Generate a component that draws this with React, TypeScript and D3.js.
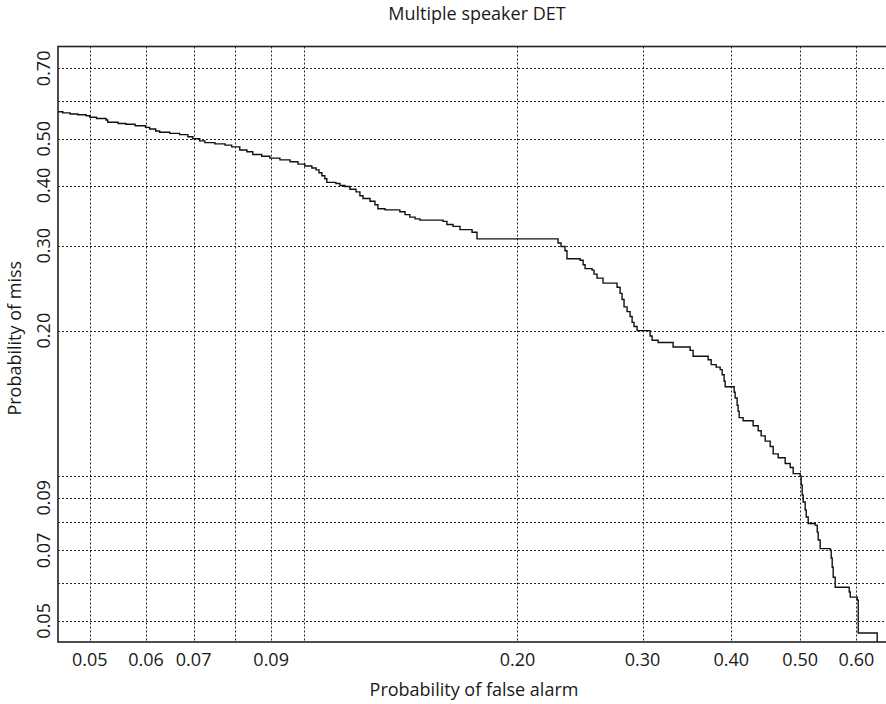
import React from 'react';
import * as d3 from 'd3';

// DET curve points (false alarm prob, miss prob)
const pfa = [
  0.0451, 0.0458, 0.0469, 0.0481, 0.0494, 0.0500, 0.0511, 0.0527, 0.0530, 0.0548,
  0.0562, 0.0579, 0.0599, 0.0607, 0.0619, 0.0627, 0.0648, 0.0669, 0.0687, 0.0698,
  0.0714, 0.0726, 0.0750, 0.0775, 0.0792, 0.0813, 0.0832, 0.0848, 0.0873, 0.0896,
  0.0926, 0.0957, 0.0982, 0.1004, 0.1027, 0.1041, 0.1051, 0.1061, 0.1071, 0.1078,
  0.1110, 0.1125, 0.1143, 0.1162, 0.1185, 0.1200, 0.1212, 0.1240, 0.1260, 0.1272,
  0.1302, 0.1366, 0.1389, 0.1411, 0.1435, 0.1458, 0.1571, 0.1591, 0.1623, 0.1660,
  0.1726, 0.1754, 0.2281, 0.2303, 0.2333, 0.2348, 0.2450, 0.2474, 0.2490, 0.2547,
  0.2563, 0.2588, 0.2639, 0.2762, 0.2789, 0.2807, 0.2825, 0.2853, 0.2881, 0.2900,
  0.2918, 0.2947, 0.3074, 0.3094, 0.3155, 0.3312, 0.3500, 0.3534, 0.3710, 0.3747,
  0.3808, 0.3858, 0.3883, 0.3908, 0.3921, 0.4037, 0.4050, 0.4076, 0.4089, 0.4103,
  0.4156, 0.4293, 0.4364, 0.4406, 0.4464, 0.4537, 0.4581, 0.4656, 0.4763, 0.4841,
  0.4888, 0.5000, 0.5016, 0.5033, 0.5049, 0.5082, 0.5099, 0.5132, 0.5249, 0.5284,
  0.5301, 0.5335, 0.5511, 0.5529, 0.5547, 0.5565, 0.5601, 0.5862, 0.5881, 0.6016,
  0.6035, 0.6418,
];
const pmiss = [
  0.569, 0.566, 0.563, 0.561, 0.558, 0.554, 0.551, 0.547, 0.541, 0.538,
  0.536, 0.532, 0.528, 0.524, 0.519, 0.516, 0.513, 0.510, 0.505, 0.500,
  0.495, 0.491, 0.488, 0.485, 0.481, 0.474, 0.470, 0.464, 0.460, 0.456,
  0.452, 0.448, 0.443, 0.439, 0.435, 0.431, 0.425, 0.419, 0.413, 0.406,
  0.404, 0.400, 0.398, 0.393, 0.388, 0.381, 0.376, 0.371, 0.365, 0.358,
  0.356, 0.353, 0.348, 0.344, 0.341, 0.339, 0.337, 0.332, 0.329, 0.324,
  0.320, 0.310, 0.304, 0.299, 0.293, 0.282, 0.280, 0.274, 0.269, 0.267,
  0.262, 0.257, 0.251, 0.246, 0.239, 0.232, 0.224, 0.219, 0.214, 0.208,
  0.204, 0.200, 0.195, 0.191, 0.189, 0.185, 0.182, 0.177, 0.174, 0.170,
  0.168, 0.166, 0.162, 0.157, 0.153, 0.149, 0.145, 0.140, 0.136, 0.132,
  0.130, 0.127, 0.124, 0.121, 0.118, 0.115, 0.111, 0.109, 0.106, 0.104,
  0.101, 0.0998, 0.0957, 0.0912, 0.0882, 0.0849, 0.0821, 0.0796, 0.0790, 0.0764,
  0.0736, 0.0706, 0.0701, 0.0675, 0.0646, 0.0616, 0.0587, 0.0574, 0.0560, 0.0552,
  0.0472, 0.030,
];

const xGrid = [0.05, 0.06, 0.07, 0.08, 0.09, 0.1, 0.2, 0.3, 0.4, 0.5, 0.6];
const xLabels = [0.05, 0.06, 0.07, 0.09, 0.2, 0.3, 0.4, 0.5, 0.6];
const yGrid = [0.05, 0.06, 0.07, 0.08, 0.09, 0.1, 0.2, 0.3, 0.4, 0.5, 0.6, 0.7];
const yLabels = [0.05, 0.07, 0.09, 0.2, 0.3, 0.4, 0.5, 0.7];

const W = 886, H = 704;
const FONT = '"Open Sans", sans-serif';

export default function App() {
  const left = 58, right = 890, top = 46.5, bottom = 642;

  const x = d3.scaleLog().domain([0.0451, 0.669]).range([left, right]);
  const y = d3.scaleLog().domain([0.0452, 0.777]).range([bottom, top]);

  const pts: [number, number][] = pfa.map((v, i) => [v, pmiss[i]]);
  const line = d3.line<[number, number]>()
    .x(d => x(d[0]))
    .y(d => y(d[1]))
    .curve(d3.curveStepAfter);

  const fmt = d3.format('.2f');
  const cx = (left + right) / 2;
  const cy = (top + bottom) / 2;

  return (
    <svg width={W} height={H} style={{ position: 'absolute', left: 0, top: 0, background: '#fff' }}>
      <defs>
        <clipPath id="plotclip">
          <rect x={left} y={top} width={right - left} height={bottom - top} />
        </clipPath>
      </defs>

      {/* title */}
      <text x={cx + 3} y={20} textAnchor="middle" fontFamily={FONT} fontSize={18} fill="#1a1a1a">
        Multiple speaker DET
      </text>

      {/* grid */}
      <g stroke="#222" strokeWidth={1} strokeDasharray="2,2">
        {xGrid.map(v => (
          <line key={'gx' + v} x1={Math.round(x(v)) + 0.5} x2={Math.round(x(v)) + 0.5} y1={top} y2={bottom} />
        ))}
        {yGrid.map(v => (
          <line key={'gy' + v} x1={left} x2={right} y1={Math.round(y(v)) + 0.5} y2={Math.round(y(v)) + 0.5} />
        ))}
      </g>

      {/* curve */}
      <path d={line(pts) || ''} fill="none" stroke="#111" strokeWidth={1.4} clipPath="url(#plotclip)" />

      {/* frame */}
      <rect x={left} y={top} width={right - left} height={bottom - top} fill="none" stroke="#222" strokeWidth={1.6} />

      {/* x tick labels */}
      <g fontFamily={FONT} fontSize={18} fill="#1a1a1a" textAnchor="middle">
        {xLabels.map(v => (
          <text key={'xl' + v} x={x(v)} y={666}>{fmt(v)}</text>
        ))}
      </g>

      {/* y tick labels */}
      <g fontFamily={FONT} fontSize={18} fill="#1a1a1a" textAnchor="middle">
        {yLabels.map(v => (
          <text key={'yl' + v} transform={`translate(50,${y(v)}) rotate(-90)`}>{fmt(v)}</text>
        ))}
      </g>

      {/* axis titles */}
      <text x={cx} y={696} textAnchor="middle" fontFamily={FONT} fontSize={18} fill="#1a1a1a">
        Probability of false alarm
      </text>
      <text transform={`translate(21,${cy - 6}) rotate(-90)`} textAnchor="middle" fontFamily={FONT} fontSize={18} fill="#1a1a1a">
        Probability of miss
      </text>
    </svg>
  );
}
